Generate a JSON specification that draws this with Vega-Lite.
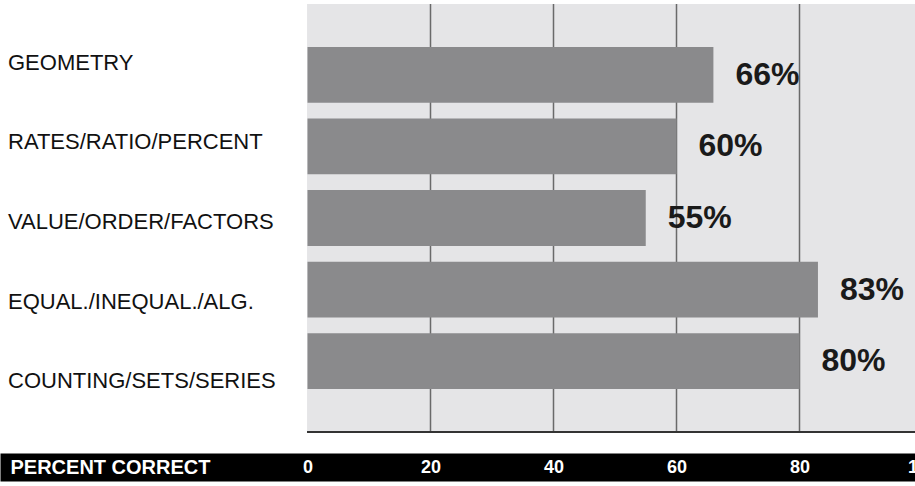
{
  "$schema": "https://vega.github.io/schema/vega-lite/v6.json",
  "width": 915,
  "height": 428,
  "autosize": {"type": "none"},
  "padding": {"top": 4, "left": 0, "right": 0, "bottom": 54},
  "background": "white",
  "config": {"view": {"stroke": null}, "font": "Liberation Sans"},
  "datasets": {
    "scores": [
      {"topic": "GEOMETRY", "pct": 66},
      {"topic": "RATES/RATIO/PERCENT", "pct": 60},
      {"topic": "VALUE/ORDER/FACTORS", "pct": 55},
      {"topic": "EQUAL./INEQUAL./ALG.", "pct": 83},
      {"topic": "COUNTING/SETS/SERIES", "pct": 80}
    ],
    "grid": [{"v": 20}, {"v": 40}, {"v": 60}, {"v": 80}]
  },
  "data": {"name": "scores"},
  "resolve": {"scale": {"y": "independent"}, "axis": {"x": "independent"}},
  "layer": [
    {
      "mark": {"type": "rect", "color": "#e5e5e7"},
      "encoding": {
        "x": {
          "datum": 0, "type": "quantitative",
          "scale": {"domain": [-50, 100], "range": [0, 922.5], "nice": false, "zero": false},
          "axis": {
            "orient": "bottom", "offset": 35, "grid": false, "ticks": false,
            "labels": false, "title": null,
            "domain": true, "domainColor": "#000000", "domainWidth": 28
          }
        },
        "x2": {"datum": 100}
      }
    },
    {
      "data": {"name": "grid"},
      "mark": {"type": "rule", "color": "#6a6a6a", "strokeWidth": 1.5},
      "encoding": {
        "x": {"field": "v", "type": "quantitative", "axis": null,
              "scale": {"domain": [-50, 100], "range": [0, 922.5], "nice": false, "zero": false}}
      }
    },
    {
      "mark": {"type": "rule", "color": "#333333", "strokeWidth": 2},
      "encoding": {
        "x": {"datum": 0, "type": "quantitative", "axis": null,
              "scale": {"domain": [-50, 100], "range": [0, 922.5], "nice": false, "zero": false}},
        "x2": {"datum": 100},
        "y": {"datum": 0, "type": "quantitative", "scale": {"domain": [0, 1]}, "axis": null}
      }
    },
    {
      "mark": {"type": "bar", "color": "#8a8a8c"},
      "encoding": {
        "y": {"field": "topic", "type": "nominal", "sort": null, "axis": null,
              "scale": {"type": "band", "paddingInner": 0.22, "paddingOuter": 0.6}},
        "x": {
          "field": "pct", "type": "quantitative",
          "scale": {"domain": [-50, 100], "range": [0, 922.5], "nice": false, "zero": false},
          "axis": {
            "orient": "bottom", "offset": 35, "values": [0, 20, 40, 60, 80, 100],
            "grid": false, "ticks": false, "tickSize": 0, "domain": false,
            "labelColor": "white", "labelFontSize": 18, "labelFontWeight": "bold",
            "labelBaseline": "middle", "labelPadding": 0, "labelFlush": false,
            "labelOverlap": false, "labelBound": false,
            "title": "PERCENT CORRECT", "titleColor": "white", "titleFontSize": 20,
            "titleFontWeight": "bold", "titleAnchor": "start", "titleAlign": "left",
            "titleBaseline": "middle", "titleX": 10, "titleY": 0
          }
        }
      }
    },
    {
      "transform": [{"calculate": "datum.pct + '%'", "as": "label"}],
      "mark": {"type": "text", "align": "left", "baseline": "middle", "dx": 22,
               "fontSize": 32, "fontWeight": "bold", "color": "#1a1a1a"},
      "encoding": {
        "y": {"field": "topic", "type": "nominal", "sort": null, "axis": null,
              "scale": {"type": "band", "paddingInner": 0.22, "paddingOuter": 0.6}},
        "x": {"field": "pct", "type": "quantitative", "axis": null,
              "scale": {"domain": [-50, 100], "range": [0, 922.5], "nice": false, "zero": false}},
        "text": {"field": "label"}
      }
    },
    {
      "mark": {"type": "text", "align": "left", "baseline": "middle", "dx": 8, "dy": 4,
               "fontSize": 22, "color": "#111111"},
      "encoding": {
        "y": {"field": "topic", "type": "nominal", "sort": null, "axis": null,
              "scale": {"type": "point", "padding": 0.69}},
        "x": {"datum": -50, "type": "quantitative", "axis": null,
              "scale": {"domain": [-50, 100], "range": [0, 922.5], "nice": false, "zero": false}},
        "text": {"field": "topic"}
      }
    }
  ]
}
